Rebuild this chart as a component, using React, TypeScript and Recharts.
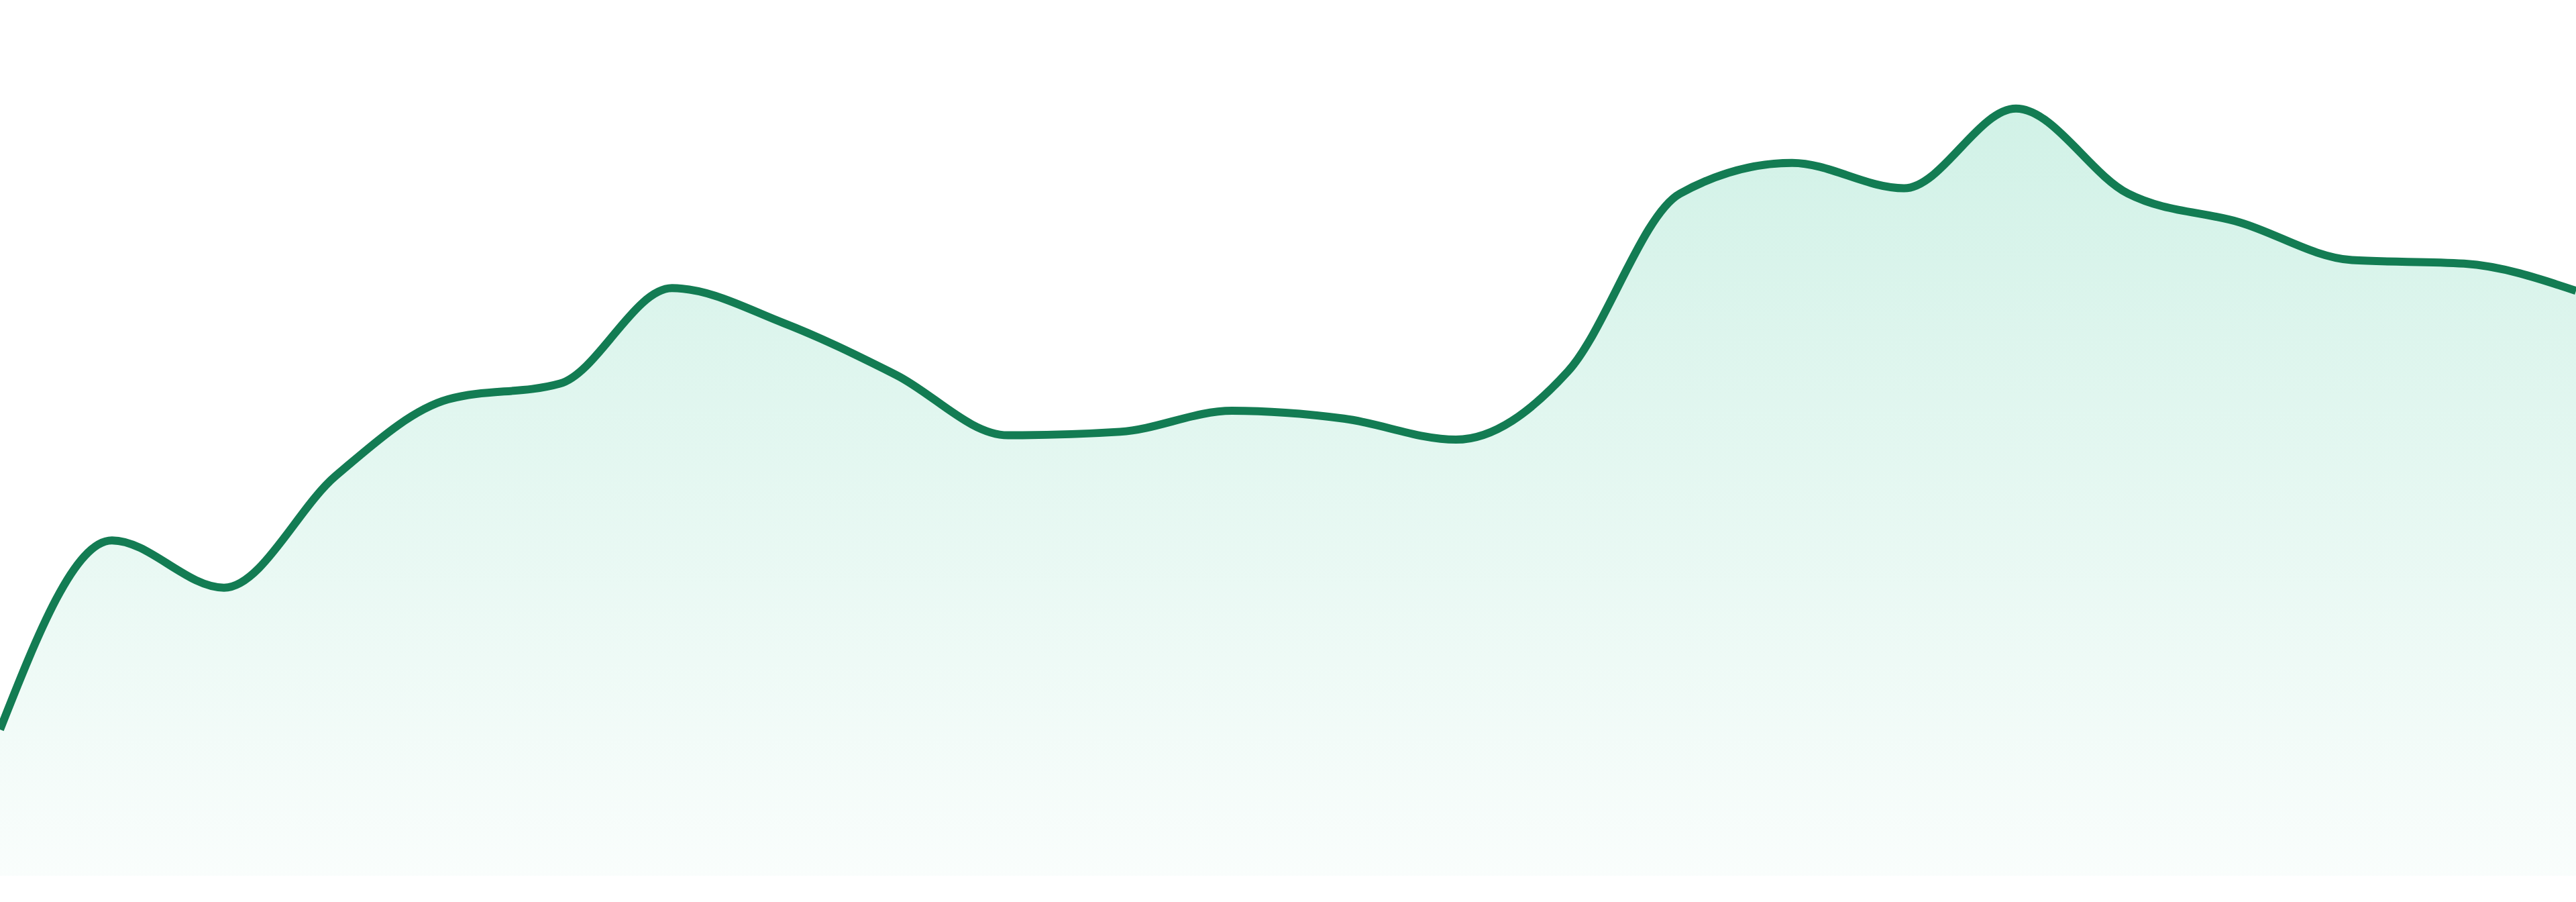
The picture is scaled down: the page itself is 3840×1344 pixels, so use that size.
import { AreaChart, Area, XAxis, YAxis } from "recharts"

// 24 evenly spaced samples (0–100 scale)
const labels = [
  "1", "2", "3", "4", "5", "6", "7", "8", "9", "10", "11", "12",
  "13", "14", "15", "16", "17", "18", "19", "20", "21", "22", "23", "24",
]

const values = [
  16.7, 38.3, 32.9, 45.7, 54.4, 56.2, 67.1, 63.1, 57.2, 50.3, 50.7, 53.1,
  52.2, 49.8, 57.6, 77.9, 81.4, 78.5, 87.6, 77.9, 74.6, 70.3, 69.9, 66.8,
]

const yDomain = [0, 100]

const data = labels.map((label, i) => ({ label, value: values[i] }))

export default function App() {
  return (
    <div style={{ position: "absolute", left: 0, top: 0, width: 3840, height: 1344, background: "#fff" }}>
      <AreaChart width={3840} height={1305} data={data} margin={{ top: 0, right: 0, bottom: 0, left: 0 }}>
        <defs>
          <linearGradient id="fillGreen" x1="0" y1="0" x2="0" y2="1">
            <stop offset="0%" stopColor="#10b981" stopOpacity={0.32} />
            <stop offset="100%" stopColor="#10b981" stopOpacity={0.04} />
          </linearGradient>
        </defs>
        <XAxis dataKey="label" hide />
        <YAxis hide domain={yDomain} />
        <Area
          type="monotone"
          dataKey="value"
          stroke="#137c53"
          strokeWidth={12}
          fill="url(#fillGreen)"
          dot={false}
          activeDot={false}
          isAnimationActive={false}
        />
      </AreaChart>
    </div>
  )
}
